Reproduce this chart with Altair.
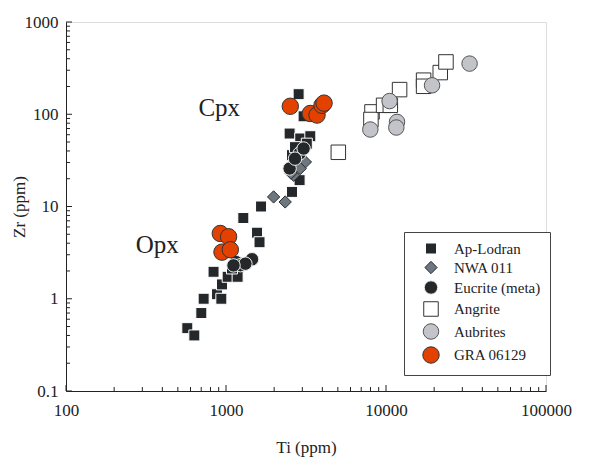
import altair as alt
import pandas as pd

FONT = "Liberation Serif"

groups = ["Ap-Lodran", "NWA 011", "Eucrite (meta)", "Angrite", "Aubrites", "GRA 06129"]

ap_ti = [573, 634, 701, 725, 836, 879, 935, 944, 1024, 1182, 1090, 1283, 1563, 1620, 1656,
         2585, 2844, 3055, 2498, 2911, 3364, 2585, 2884, 3200, 2700]
ap_zr = [0.48, 0.40, 0.70, 1.0, 1.96, 1.12, 1.0, 1.43, 1.73, 1.73, 2.13, 7.5, 5.2, 4.1, 10.0,
         14.4, 165, 95, 61.8, 54.6, 57.8, 36, 19.3, 48, 44]

nwa_ti = [1984, 2344, 2646, 3134, 2911, 2550]
nwa_zr = [12.7, 11.2, 21.8, 30.4, 25.8, 23.0]

euc_ti = [2884, 3055, 2498, 2700, 1155, 1230, 1454, 1322, 1114]
euc_zr = [37.5, 42.5, 25.8, 33.0, 2.5, 2.31, 2.68, 2.4, 2.3]

ang_ti = [5035, 8175, 8050, 9660, 10640, 12160, 17180, 17180, 21830, 23700]
ang_zr = [38.7, 106, 87.7, 125, 125, 185, 234, 201, 283, 369]

aub_ti = [7980, 11720, 11600, 10530, 19400, 33300]
aub_zr = [68.3, 82.6, 71.8, 139, 206, 354]

gra_ti = [921, 1038, 944, 1064, 2523, 3364, 3706, 3981, 4100]
gra_zr = [5.1, 4.7, 3.2, 3.4, 122, 102, 98, 125, 132]

series = [ap_ti, nwa_ti, euc_ti, ang_ti, aub_ti, gra_ti]
series_zr = [ap_zr, nwa_zr, euc_zr, ang_zr, aub_zr, gra_zr]

rows = []
for g, tis, zrs in zip(groups, series, series_zr):
    for t, z in zip(tis, zrs):
        rows.append({"group": g, "Ti": t, "Zr": z})
df = pd.DataFrame(rows)

fills = ["#25282b", "#6e7780", "#25282b", "#ffffff", "#c2c4c9", "#e34100"]
strokes = ["#ffffff", "#2a2d30", "#f0f0f0", "#333333", "#555555", "#333333"]
shapes = ["square", "diamond", "circle", "square", "circle", "circle"]
sizes = [121, 270, 150, 144, 196, 440]

x_major = [100, 1000, 10000, 100000]
x_minor = [v * m for m in (100, 1000, 10000) for v in range(2, 10)]
y_major = [0.1, 1, 10, 100, 1000]
y_minor = [round(v * m, 4) for m in (0.1, 1, 10, 100) for v in range(2, 10)]

labels_text = ["Cpx", "Opx"]
labels_ti = [908, 372]
labels_zr = [116, 3.8]

W, H = 480, 369
xscale = alt.Scale(type="log", domain=[100, 100000], nice=False)
yscale = alt.Scale(type="log", domain=[0.1, 1000], nice=False)

xaxis = alt.Axis(values=x_major, format="~d", ticks=False, grid=False, title="Ti (ppm)",
                 labelFont=FONT, labelFontSize=17, labelColor="#222", labelPadding=11,
                 titleFont=FONT, titleFontSize=17, titleFontWeight="normal", titleColor="#222",
                 titlePadding=21, domainColor="#222", labelFlush=False)
yaxis = alt.Axis(values=y_major, format="~g", ticks=False, grid=False, title="Zr (ppm)",
                 labelFont=FONT, labelFontSize=17, labelColor="#222", labelPadding=8,
                 titleFont=FONT, titleFontSize=17, titleFontWeight="normal", titleColor="#222",
                 titleX=-38, titleY=H / 2, domainColor="#222", labelFlush=False)

leg = alt.Legend(title=None, orient="none", legendX=338, legendY=210)

gscale_dom = groups
points = alt.Chart(df).mark_point(filled=True, opacity=1, strokeWidth=1).encode(
    x=alt.X("Ti:Q", scale=xscale, axis=xaxis),
    y=alt.Y("Zr:Q", scale=yscale, axis=yaxis),
    fill=alt.Fill("group:N", scale=alt.Scale(domain=gscale_dom, range=fills), legend=leg, sort=groups),
    stroke=alt.Stroke("group:N", scale=alt.Scale(domain=gscale_dom, range=strokes), legend=leg, sort=groups),
    shape=alt.Shape("group:N", scale=alt.Scale(domain=gscale_dom, range=shapes), legend=leg, sort=groups),
    size=alt.Size("group:N", scale=alt.Scale(domain=gscale_dom, range=sizes), legend=leg, sort=groups),
)

tdf = pd.DataFrame({"t": labels_text, "Ti": labels_ti, "Zr": labels_zr})
texts = alt.Chart(tdf).mark_text(font=FONT, fontSize=25, color="#222").encode(
    x=alt.X("Ti:Q", scale=xscale), y=alt.Y("Zr:Q", scale=yscale), text="t:N")

def xticks(vals, ln):
    return alt.Chart(pd.DataFrame({"Ti": vals})).mark_rule(color="#222", strokeWidth=1).encode(
        x=alt.X("Ti:Q", scale=xscale), y=alt.value(H), y2=alt.value(H - ln))

def yticks(vals, ln):
    return alt.Chart(pd.DataFrame({"Zr": vals})).mark_rule(color="#222", strokeWidth=1).encode(
        y=alt.Y("Zr:Q", scale=yscale), x=alt.value(0), x2=alt.value(ln))

chart = alt.layer(
    xticks(x_major, 6), xticks(x_minor, 4), yticks(y_major, 6), yticks(y_minor, 4),
    points, texts
).properties(
    width=W, height=H, autosize="none",
    padding={"left": 58, "top": 14, "right": 40, "bottom": 67}
).configure_view(stroke="#222", strokeWidth=1).configure(
    background="white"
).configure_legend(
    labelFont=FONT, labelFontSize=15, labelColor="#222",
    strokeColor="#444", padding=9, symbolOffset=9, rowPadding=2, symbolStrokeWidth=1,
    labelOffset=14, fillColor="#ffffff"
)

chart.save("out.html", embed_options={"renderer": "svg", "actions": False})
